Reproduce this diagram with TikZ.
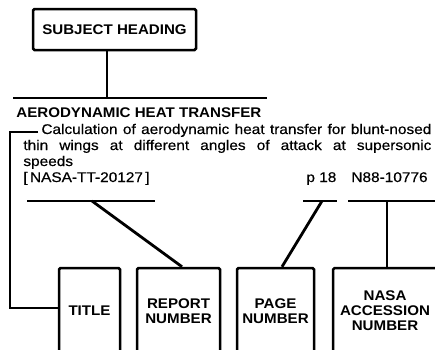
\documentclass[tikz,border=0pt]{standalone}
\usepackage{fontspec}
\setmainfont{Liberation Sans}
\newfontfamily\bodyfont[FakeStretch=1.1,FakeBold=0.4]{Liberation Sans}
\newfontfamily\boldfont[FakeStretch=1.08]{Liberation Sans}
\begin{document}
\begin{tikzpicture}[x=1pt,y=-1pt,line width=2.8pt,
  lbl/.style={font=\boldfont\bfseries\fontsize{14}{15}\selectfont},
  txt/.style={font=\bodyfont\fontsize{14}{16}\selectfont,inner sep=0pt,anchor=base west},
  box/.style={draw,line width=2.5pt,rounded corners=1.5pt,align=center,inner sep=0pt,
    lbl,minimum height=86pt}]
\useasboundingbox (0,0) rectangle (435,349);
\clip (0,0) rectangle (435,349);
% subject heading
\node[box,minimum width=163pt,minimum height=41pt] (subj) at (114.5,29.5) {SUBJECT HEADING};
\coordinate (junc) at (107,98);
\coordinate (hlL) at (13,98);
\coordinate (hlR) at (267,98);
\draw (subj.south -| junc) -- (junc);
\draw (hlL) -- (hlR);
% entry text
\node[lbl,inner sep=0pt,anchor=base west] (head) at (15,117) {AERODYNAMIC HEAT TRANSFER};
\node[txt] (l1) at (40,134) {\makebox[390pt][s]{Calculation of aerodynamic heat transfer for blunt-nosed}};
\node[txt] (l2) at (22,150) {\makebox[408pt][s]{thin wings at different angles of attack at supersonic}};
\node[txt] (l3) at (22,166) {speeds};
\node[txt] (rep) at (22,182) {[\,NASA-TT-20127\,]};
\node[txt] (pg) at (305,182) {p 18};
\node[txt] (acc) at (350,182) {N88-10776};
% bottom boxes
\node[box,minimum width=61pt] (tbox) at (89.5,311) {TITLE};
\node[box,minimum width=83pt] (rbox) at (178.5,311) {REPORT\\NUMBER};
\node[box,minimum width=77pt] (pbox) at (275.5,311) {PAGE\\NUMBER};
\node[box,minimum width=104pt] (abox) at (385,311) {NASA\\ACCESSION\\NUMBER};
% bracket to title
\coordinate (brT) at (38,132);
\coordinate (brC) at (10,132);
\draw (brT) -- (brC) |- ([yshift=3pt]tbox.west);
% report number
\coordinate (repL) at (27,201);
\coordinate (repR) at (155,201);
\coordinate (repM) at (92,201);
\draw (repL) -- (repR);
\draw (repM) -- ([xshift=3.5pt]rbox.north);
% page number
\coordinate (pgL) at (303,201);
\coordinate (pgR) at (337,201);
\coordinate (pgM) at (322,201);
\draw (pgL) -- (pgR);
\draw (pgM) -- ([xshift=6.5pt]pbox.north);
% accession number
\coordinate (accL) at (348,201);
\coordinate (accR) at (437,201);
\coordinate (accM) at (387,201);
\draw (accL) -- (accR);
\draw (accM) -- (abox.north -| accM);
\end{tikzpicture}
\end{document}
